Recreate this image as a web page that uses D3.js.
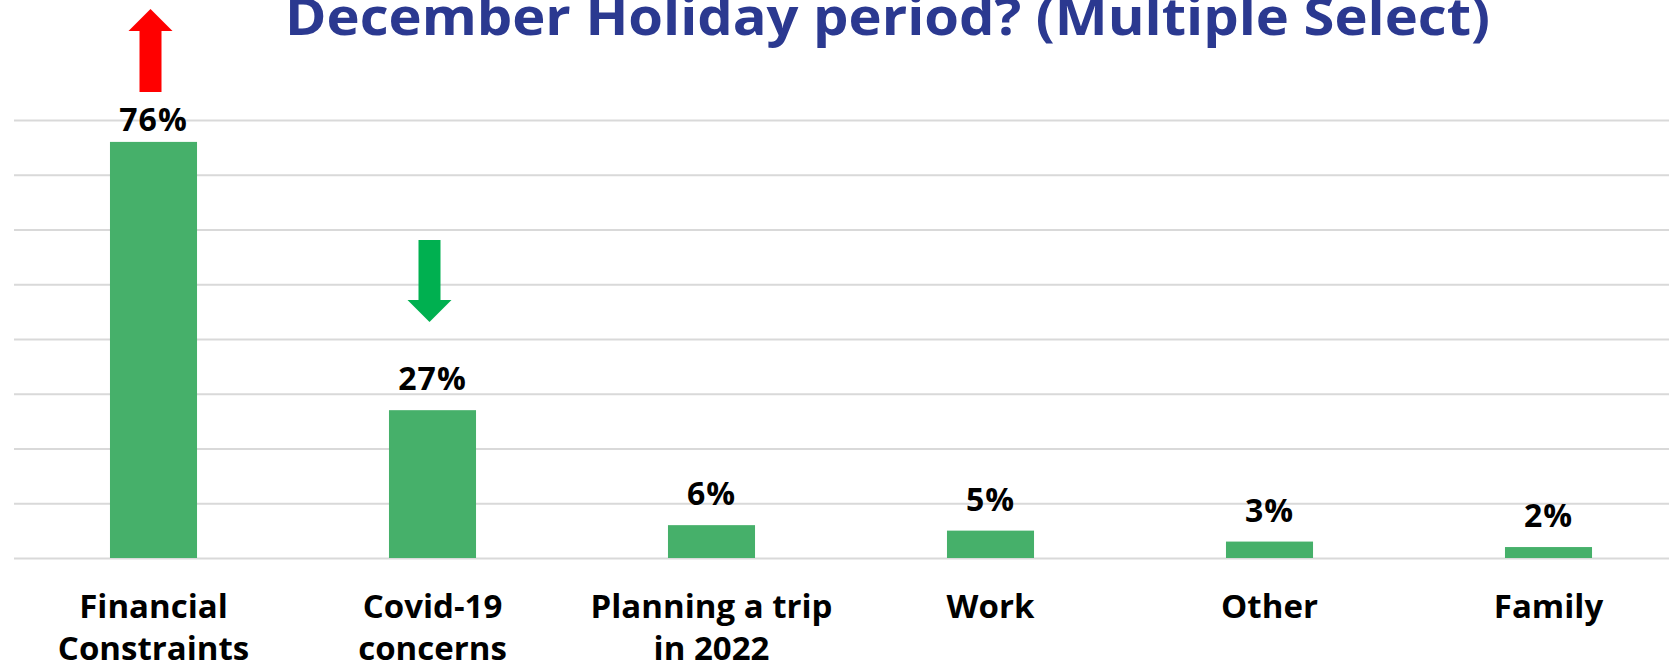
<!DOCTYPE html>
<html>
<head>
<meta charset="utf-8">
<script src="https://cdn.jsdelivr.net/npm/d3@7"></script>
<style>
  html, body { margin: 0; padding: 0; background: #ffffff; }
  svg { display: block; }
  text { font-family: "Open Sans", "Noto Sans", sans-serif; font-weight: 700; }
</style>
</head>
<body>
<svg id="chart" width="1669" height="664"></svg>
<script>
// ---- data ----
const categories = ["Financial Constraints", "Covid-19 concerns", "Planning a trip in 2022", "Work", "Other", "Family"];
const categoryLines = [["Financial", "Constraints"], ["Covid-19", "concerns"], ["Planning a trip", "in 2022"], ["Work"], ["Other"], ["Family"]];
const values = [0.76, 0.27, 0.06, 0.05, 0.03, 0.02];
const valueLabels = ["76%", "27%", "6%", "5%", "3%", "2%"];
const gridTicks = [0, 0.1, 0.2, 0.3, 0.4, 0.5, 0.6, 0.7, 0.8];
const trendCategories = ["Financial Constraints", "Covid-19 concerns"];
const trendDirections = ["up", "down"];
const titleText = "December Holiday period? (Multiple Select)";

// ---- layout ----
const W = 1669, H = 664;
const svg = d3.select("#chart");
svg.append("rect").attr("width", W).attr("height", H).attr("fill", "#ffffff");

const x = d3.scaleBand().domain(categories).range([14, 1688]).paddingInner(0.688).paddingOuter(0.344);
const y = d3.scaleLinear().domain([0, 0.8]).range([558, 120]);

// gridlines
const grid = d3.axisLeft(y).tickValues(gridTicks).tickSize(-(W - 14)).tickFormat("");
const gg = svg.append("g").attr("transform", "translate(14,0)").call(grid);
gg.select(".domain").remove();
gg.selectAll(".tick line").attr("stroke", "#d9d9d9").attr("stroke-width", 2);

// bars
svg.append("g").selectAll("rect").data(values).join("rect")
  .attr("x", (d, i) => x(categories[i]))
  .attr("y", d => y(d))
  .attr("width", x.bandwidth())
  .attr("height", d => y(0) - y(d))
  .attr("fill", "#46b06a");

// value labels
svg.append("g").selectAll("text").data(values).join("text")
  .attr("x", (d, i) => x(categories[i]) + x.bandwidth() / 2)
  .attr("y", d => Math.max(y(d) - 20, 131))
  .attr("text-anchor", "middle")
  .attr("font-size", 32)
  .attr("letter-spacing", 1)
  .attr("fill", "#000000")
  .text((d, i) => valueLabels[i]);

// category labels
const cl = svg.append("g").selectAll("text").data(categories).join("text")
  .attr("text-anchor", "middle")
  .attr("font-size", 33)
  .attr("fill", "#000000")
  .attr("x", d => x(d) + x.bandwidth() / 2)
  .attr("y", 618);
cl.each(function(d, i) {
  const t = d3.select(this);
  categoryLines[i].forEach((ln, j) => {
    t.append("tspan").attr("x", x(d) + x.bandwidth() / 2).attr("y", 618 + j * 42).text(ln);
  });
});

// trend arrows
trendCategories.forEach((c, i) => {
  const cx = x(c) + x.bandwidth() / 2 - 3;
  let pts;
  if (trendDirections[i] === "up") {
    pts = [[cx, 9], [cx + 22, 31], [cx + 11, 31], [cx + 11, 92], [cx - 11, 92], [cx - 11, 31], [cx - 22, 31]];
    svg.append("polygon").attr("points", pts.map(p => p.join(",")).join(" ")).attr("fill", "#ff0000");
  } else {
    pts = [[cx, 322], [cx + 22, 300], [cx + 11, 300], [cx + 11, 240], [cx - 11, 240], [cx - 11, 300], [cx - 22, 300]];
    svg.append("polygon").attr("points", pts.map(p => p.join(",")).join(" ")).attr("fill", "#00b050");
  }
});

// title
const title = svg.append("text")
  .attr("x", 887.5).attr("y", 35)
  .attr("text-anchor", "middle")
  .attr("font-size", 52)
  .attr("fill", "#2b3990")
  .text(titleText);
const tl = title.node().getComputedTextLength();
if (Math.abs(tl - 1205) > 5) title.attr("textLength", 1205).attr("lengthAdjust", "spacingAndGlyphs");
</script>
</body>
</html>
